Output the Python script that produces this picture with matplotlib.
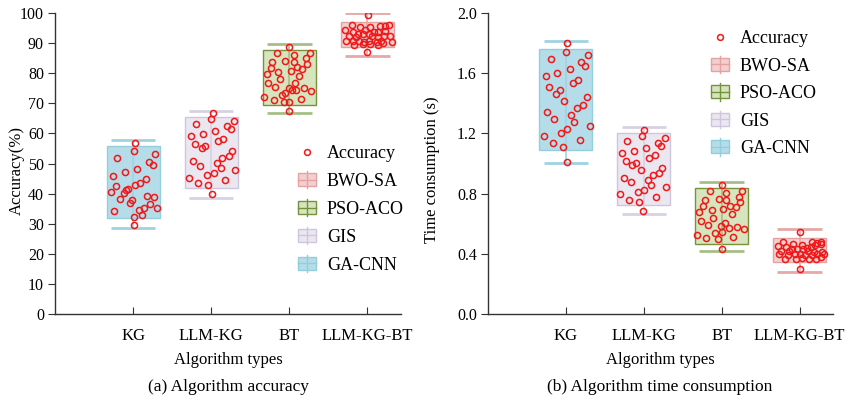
import numpy as np
import matplotlib
matplotlib.use("Agg")
import matplotlib.pyplot as plt
from matplotlib.patches import Patch, Rectangle
from matplotlib.lines import Line2D
from matplotlib.legend_handler import HandlerBase

plt.rcParams['font.family'] = ['Liberation Serif', 'DejaVu Serif']
plt.rcParams['font.size'] = 12

# categories and methods
categories = ['KG', 'LLM-KG', 'BT', 'LLM-KG-BT']
methods = ['GA-CNN', 'GIS', 'PSO-ACO', 'BWO-SA']
face_colors = ['#B5DDE9', '#EBE7F1', '#D7E5BF', '#F3CFCF']
edge_colors = ['#93CEDD', '#CFC6DD', '#76923C', '#E3A3A3']
cap_colors = ['#9FD3E2', '#D8D0E4', '#A6BE86', '#E6A8A8']

# (a) accuracy box stats: q1, q3, lower whisker, upper whisker
acc_q1 = [31.8, 41.8, 69.3, 88.7]
acc_q3 = [55.8, 65.6, 87.8, 97.1]
acc_lo = [28.7, 38.7, 66.8, 85.6]
acc_hi = [57.7, 67.6, 89.6, 99.9]

# (b) time box stats
time_q1 = [1.088, 0.724, 0.467, 0.343]
time_q3 = [1.759, 1.200, 0.839, 0.505]
time_lo = [1.001, 0.662, 0.417, 0.277]
time_hi = [1.814, 1.245, 0.875, 0.567]

# accuracy samples (value, horizontal jitter)
acc_kg = [56.9, 54.2, 53.1, 51.8, 50.6, 49.5, 48.3, 47.2, 45.9, 44.7, 43.6, 42.9, 42.4, 41.5, 41.2,
          40.1, 40.5, 39.3, 38.9, 38.1, 37.8, 37.0, 36.5, 35.1, 35.3, 34.3, 34.4, 33.0, 32.1, 29.7]
acc_kg_dx = [0.02, 0.01, 0.28, -0.20, 0.20, 0.25, 0.05, -0.11, -0.26, 0.16, 0.09, 0.03, -0.22, -0.07, -0.09,
             -0.12, -0.28, 0.18, 0.27, -0.17, -0.02, -0.04, 0.22, 0.31, 0.14, -0.24, 0.07, 0.11, 0.01, 0.01]
acc_llm = [66.9, 64.7, 64.0, 63.1, 62.3, 61.5, 60.8, 59.8, 59.0, 58.3, 57.5, 56.6, 55.8, 55.0, 54.3,
           52.6, 51.8, 50.9, 50.2, 49.3, 48.5, 47.7, 46.8, 46.1, 45.3, 44.4, 43.6, 42.9, 39.9]
acc_llm_dx = [0.02, 0.00, 0.29, -0.19, 0.20, 0.25, 0.05, -0.11, -0.26, 0.15, 0.09, -0.21, -0.08, -0.12, 0.27,
              0.23, 0.14, -0.23, 0.07, -0.14, 0.12, 0.31, 0.03, -0.06, -0.28, 0.18, -0.17, -0.04, 0.01]
acc_bt = [88.8, 86.7, 86.7, 86.0, 84.2, 84.9, 83.7, 83.7, 83.1, 81.7, 82.0, 81.3, 80.7, 80.3, 79.7,
          79.1, 78.0, 76.7, 76.7, 75.5, 75.1, 74.5, 75.0, 74.0, 74.4, 73.4, 72.6, 72.1, 71.5, 71.1,
          70.4, 70.3, 67.5]
acc_bt_dx = [0.00, -0.16, 0.26, 0.06, -0.05, 0.21, -0.22, 0.06, 0.23, -0.24, 0.10, 0.16, 0.02, -0.14, -0.29,
             0.12, -0.12, -0.27, 0.07, -0.18, -0.01, 0.03, 0.19, 0.28, 0.08, -0.06, -0.09, -0.32, 0.15, -0.20,
             -0.07, 0.00, 0.00]
acc_all = [99.2, 95.9, 95.2, 95.5, 95.7, 95.7, 96.0, 94.4, 93.7, 94.4, 93.7, 93.7, 93.9, 93.1, 93.0,
           93.0, 92.4, 92.1, 92.4, 91.9, 92.4, 92.4, 90.8, 90.8, 90.8, 90.4, 90.6, 90.4, 90.8, 90.4,
           89.5, 89.7, 89.7, 89.5, 89.9, 87.0]
acc_all_dx = [0.01, -0.20, -0.09, 0.03, 0.16, 0.22, 0.28, -0.29, -0.19, -0.03, 0.09, 0.14, 0.22, -0.12, -0.06,
              0.02, -0.24, -0.14, 0.06, 0.13, 0.21, 0.29, -0.28, -0.18, -0.11, -0.04, 0.02, 0.12, 0.17, 0.31,
              -0.17, -0.06, 0.03, 0.14, 0.20, 0.00]

# time samples
time_kg = [1.803, 1.743, 1.721, 1.696, 1.674, 1.650, 1.628, 1.603, 1.579, 1.557, 1.533, 1.508, 1.486, 1.460, 1.440,
           1.415, 1.391, 1.369, 1.344, 1.322, 1.298, 1.274, 1.251, 1.227, 1.203, 1.181, 1.156, 1.134, 1.110, 1.012]
time_kg_dx = [0.01, 0.00, 0.29, -0.19, 0.20, 0.24, 0.05, -0.11, -0.26, 0.16, 0.09, -0.22, -0.08, -0.13, 0.27,
              -0.02, 0.22, 0.14, -0.24, 0.07, -0.15, 0.11, 0.31, 0.02, -0.06, -0.28, 0.18, -0.17, -0.04, 0.01]
time_llm = [1.225, 1.183, 1.167, 1.149, 1.134, 1.118, 1.101, 1.085, 1.068, 1.054, 1.037, 1.019, 1.005, 0.988, 0.972,
            0.955, 0.939, 0.924, 0.906, 0.890, 0.875, 0.857, 0.842, 0.826, 0.811, 0.795, 0.777, 0.759, 0.746, 0.684]
time_llm_dx = [0.00, -0.02, 0.27, -0.21, 0.18, 0.22, 0.03, -0.12, -0.28, 0.14, 0.07, -0.23, -0.10, -0.15, 0.24,
               -0.04, 0.20, 0.12, -0.26, 0.05, -0.17, 0.09, 0.29, 0.00, -0.08, -0.30, 0.16, -0.19, -0.06, -0.01]
time_bt = [0.859, 0.817, 0.817, 0.802, 0.766, 0.779, 0.757, 0.757, 0.746, 0.718, 0.718, 0.709, 0.698, 0.689, 0.678,
           0.664, 0.640, 0.616, 0.607, 0.591, 0.583, 0.573, 0.580, 0.563, 0.547, 0.538, 0.525, 0.514, 0.505, 0.498,
           0.434]
time_bt_dx = [0.00, -0.15, 0.26, 0.06, -0.04, 0.22, -0.22, 0.06, 0.24, -0.24, 0.11, 0.18, 0.02, -0.13, -0.29,
              0.13, -0.11, -0.27, 0.04, -0.18, -0.01, 0.09, 0.20, 0.29, 0.00, -0.09, -0.31, 0.15, -0.20, -0.05,
              0.00]
time_all = [0.545, 0.478, 0.463, 0.478, 0.474, 0.478, 0.450, 0.443, 0.458, 0.441, 0.443, 0.456, 0.465, 0.432, 0.434,
            0.430, 0.419, 0.417, 0.421, 0.412, 0.410, 0.399, 0.392, 0.399, 0.399, 0.394, 0.392, 0.401, 0.399, 0.368,
            0.368, 0.372, 0.365, 0.363, 0.381, 0.301]
time_all_dx = [0.00, -0.21, -0.09, 0.16, 0.23, 0.28, -0.28, -0.17, 0.03, 0.09, 0.15, 0.20, 0.27, -0.10, -0.03,
               0.04, -0.24, -0.13, 0.11, 0.19, 0.29, -0.26, -0.15, -0.06, 0.01, 0.07, 0.16, 0.22, 0.32, -0.18,
               -0.04, 0.03, 0.12, 0.21, 0.27, 0.00]

acc_pts = [(acc_kg, acc_kg_dx), (acc_llm, acc_llm_dx), (acc_bt, acc_bt_dx), (acc_all, acc_all_dx)]
time_pts = [(time_kg, time_kg_dx), (time_llm, time_llm_dx), (time_bt, time_bt_dx), (time_all, time_all_dx)]


class BoxHandler(HandlerBase):
    def create_artists(self, legend, orig_handle, xdescent, ydescent, width, height, fontsize, trans):
        w, h = 13, 9.5
        x0 = -xdescent + (width - w) / 2
        y0 = -ydescent + (height - h) / 2
        rect = Rectangle((x0, y0), w, h, facecolor=orig_handle.get_facecolor(),
                         edgecolor=orig_handle.get_edgecolor(), lw=1.0, transform=trans)
        hl = Line2D([x0, x0 + w], [y0 + h / 2] * 2, color=orig_handle.get_edgecolor(), lw=1.0, transform=trans)
        vl = Line2D([x0 + w / 2] * 2, [y0 - 1.5, y0 + h + 1.5], color=orig_handle.get_edgecolor(), lw=1.0,
                    transform=trans)
        return [rect, hl, vl]


def draw_panel(ax, q1, q3, lo, hi, pts):
    pos = np.arange(1, len(categories) + 1)
    q1 = np.array(q1)
    q3 = np.array(q3)
    ax.bar(pos, q3 - q1, bottom=q1, width=0.68, color=face_colors, edgecolor=edge_colors, lw=1.0, zorder=2)
    for i in range(len(pos)):
        ax.vlines(pos[i], lo[i], hi[i], color=cap_colors[i], lw=1.2, zorder=3)
        ax.hlines([lo[i], hi[i]], pos[i] - 0.285, pos[i] + 0.285, color=cap_colors[i], lw=2.0, zorder=3)
        vals, dx = pts[i]
        ax.plot(pos[i] + np.array(dx), vals, 'o', ms=4.4, mfc='none', mec='#F01818', mew=1.1,
                linestyle='none', zorder=4)
    ax.set_xticks(pos)
    ax.set_xticklabels(categories)
    ax.set_xlim(0, 4.43)
    for s in ['top', 'right']:
        ax.spines[s].set_visible(False)
    for s in ['left', 'bottom']:
        ax.spines[s].set_color('#333333')
        ax.spines[s].set_linewidth(1.0)
    ax.tick_params(axis='x', direction='in', length=5, color='#333333', pad=10)
    ax.tick_params(axis='y', direction='out', length=5, color='#333333', pad=3, labelsize=11.5)
    ax.set_xlabel('Algorithm types', labelpad=6)


def legend_items():
    handles = [Line2D([], [], marker='o', ms=4.2, mfc='none', mec='#F01818', mew=1.1, linestyle='none')]
    labels = ['Accuracy']
    for i in [3, 2, 1, 0]:
        handles.append(Patch(facecolor=face_colors[i], edgecolor=edge_colors[i]))
        labels.append(methods[i])
    return handles, labels


fig = plt.figure(figsize=(8.51, 4.04), dpi=100)
ax1 = fig.add_axes([55 / 851, 90 / 404, 346 / 851, 301 / 404])
ax2 = fig.add_axes([488 / 851, 90 / 404, 345 / 851, 301 / 404])

draw_panel(ax1, acc_q1, acc_q3, acc_lo, acc_hi, acc_pts)
ax1.set_ylim(0, 100)
ax1.set_yticks(np.arange(0, 101, 10))
ax1.set_ylabel('Accuracy(%)')
ax1.yaxis.set_label_coords(-0.086, 0.478)

draw_panel(ax2, time_q1, time_q3, time_lo, time_hi, time_pts)
ax2.set_ylim(0, 2.0)
ax2.set_yticks(np.arange(0, 2.01, 0.4))
ax2.set_yticklabels(['%.1f' % v for v in np.arange(0, 2.01, 0.4)])
ax2.set_ylabel('Time consumption (s)')
ax2.yaxis.set_label_coords(-0.139, 0.48)

h, l = legend_items()
hm = {Patch: BoxHandler()}
fig.legend(h, l, loc='upper left', bbox_to_anchor=(280 / 851, 1 - 129 / 404), frameon=False,
           handler_map=hm, handlelength=1.2, handletextpad=0.5, labelspacing=0.6, fontsize=13)
fig.legend(h, l, loc='upper left', bbox_to_anchor=(693 / 851, 1 - 14 / 404), frameon=False,
           handler_map=hm, handlelength=1.2, handletextpad=0.5, labelspacing=0.58, fontsize=13)

fig.text(228 / 851, 1 - 387 / 404, '(a) Algorithm accuracy', ha='center', va='center', fontsize=12.5)
fig.text(660 / 851, 1 - 387 / 404, '(b) Algorithm time consumption', ha='center', va='center', fontsize=12.5)

fig.savefig('out.png', dpi=100)
